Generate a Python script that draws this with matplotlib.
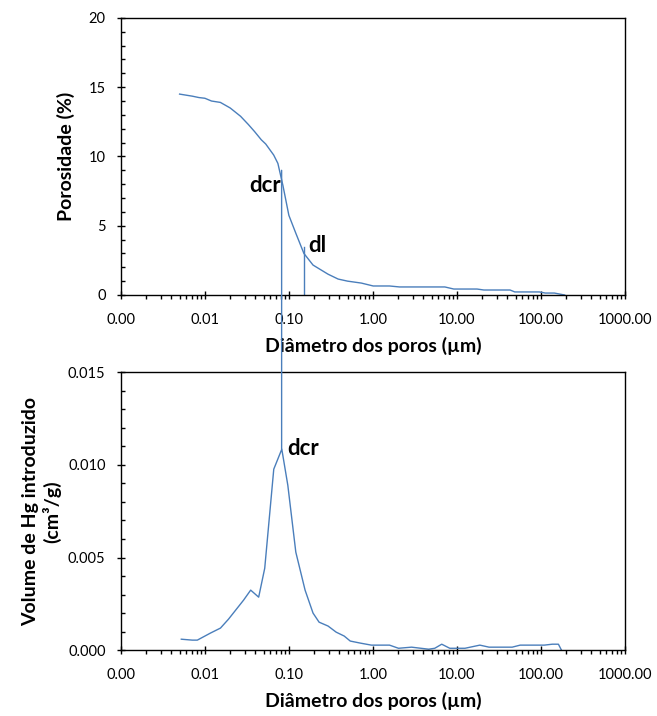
import matplotlib
matplotlib.use("Agg")
import matplotlib.pyplot as plt
from matplotlib.patches import ConnectionPatch
from matplotlib.ticker import FixedLocator, LogLocator, FuncFormatter, MultipleLocator, NullFormatter

plt.rcParams['font.family'] = ['Lato', 'DejaVu Sans']

# Porosity (cumulative) vs pore diameter
diam_por = [0.005, 0.0071, 0.0085, 0.01, 0.012, 0.0153, 0.02, 0.0266, 0.033, 0.039,
            0.047, 0.053, 0.066, 0.074, 0.085, 0.1, 0.121, 0.151, 0.194, 0.293,
            0.386, 0.5, 0.73, 1.01, 1.58, 2.08, 7.2, 9.2, 17.4, 21, 43, 49, 96,
            113, 145, 192]
porosity = [14.5, 14.35, 14.25, 14.2, 14.0, 13.9, 13.5, 12.9, 12.3, 11.8,
            11.2, 10.9, 10.1, 9.5, 7.9, 5.75, 4.46, 3.0, 2.16, 1.5,
            1.15, 1.0, 0.86, 0.65, 0.65, 0.58, 0.58, 0.43, 0.43, 0.36, 0.36, 0.22, 0.22,
            0.14, 0.14, 0.0]

# Differential Hg intrusion vs pore diameter
diam_hg = [0.00524, 0.00708, 0.00813, 0.01164, 0.01533, 0.0191, 0.0289, 0.0351, 0.0437,
           0.0516, 0.0661, 0.0824, 0.0972, 0.121, 0.156, 0.194, 0.229, 0.293, 0.366,
           0.456, 0.538, 0.708, 0.96, 1.58, 2.02, 2.89, 4.62, 5.46, 6.61, 8.24, 12.5,
           18.8, 24.2, 45.6, 56.8, 110, 137, 162, 176]
vol_hg = [0.00059, 0.00054, 0.00054, 0.00092, 0.00119, 0.00167, 0.0027, 0.00324, 0.00286,
          0.00442, 0.00977, 0.01085, 0.0089, 0.00529, 0.00324, 0.0020, 0.00151, 0.0013, 0.00097,
          0.00076, 0.00049, 0.00038, 0.00027, 0.00027, 0.0001, 0.00016, 0.00005, 0.0001,
          0.00032, 0.0001, 0.0001, 0.00027, 0.00016, 0.00016, 0.00027, 0.00027, 0.00032,
          0.00032, 0.0]

dcr = 0.082
dcr_por = 9.0
dl = 0.15
dl_por = 3.5

blue = '#4a7ebb'
label_size = 14
mark_size = 16

fig = plt.figure(figsize=(6.57, 7.16), dpi=100)
ax1 = fig.add_axes([0.184, 0.588, 0.767, 0.387])
ax2 = fig.add_axes([0.184, 0.092, 0.767, 0.388])


def style_axes(ax):
    ax.set_xscale('log')
    ax.set_xlim(0.001, 1000)
    ax.xaxis.set_major_locator(FixedLocator([0.001, 0.01, 0.1, 1, 10, 100, 1000]))
    ax.xaxis.set_minor_locator(LogLocator(base=10, subs=range(2, 10), numticks=20))
    ax.xaxis.set_major_formatter(FuncFormatter(lambda v, p: '%.2f' % v))
    ax.xaxis.set_minor_formatter(NullFormatter())
    ax.tick_params(axis='x', which='major', direction='inout', length=6, width=1, labelsize=10.5, pad=10)
    ax.tick_params(axis='x', which='minor', direction='out', length=3, width=1)
    ax.tick_params(axis='y', which='major', direction='inout', length=6, width=1, labelsize=10.5, pad=8)
    ax.tick_params(axis='y', which='minor', direction='in', length=3, width=1)
    for s in ax.spines.values():
        s.set_linewidth(1)
        s.set_color('black')
    ax.set_xlabel('Diâmetro dos poros (µm)', fontsize=label_size, fontweight='bold', labelpad=7)


# top panel
ax1.plot(diam_por, porosity, color=blue, lw=1)
ax1.plot([dl, dl], [0, dl_por], color=blue, lw=1)
style_axes(ax1)
ax1.set_ylim(0, 20)
ax1.yaxis.set_major_locator(MultipleLocator(5))
ax1.yaxis.set_minor_locator(MultipleLocator(1))
ax1.set_ylabel('Porosidade (%)', fontsize=label_size, fontweight='bold', labelpad=10)
ax1.text(dcr * 0.97, 7.9, 'dcr', fontsize=mark_size, fontweight='bold', ha='right', va='center')
ax1.text(dl * 1.12, 3.6, 'dl', fontsize=mark_size, fontweight='bold', ha='left', va='center')

# bottom panel
ax2.plot(diam_hg, vol_hg, color=blue, lw=1)
style_axes(ax2)
ax2.set_ylim(0, 0.015)
ax2.yaxis.set_major_locator(MultipleLocator(0.005))
ax2.yaxis.set_minor_locator(MultipleLocator(0.001))
ax2.yaxis.set_major_formatter(FuncFormatter(lambda v, p: '%.3f' % v))
ax2.set_ylabel('Volume de Hg introduzido\n(cm³/g)', fontsize=label_size, fontweight='bold', labelpad=5)
ax2.text(dcr * 1.18, 0.0109, 'dcr', fontsize=mark_size, fontweight='bold', ha='left', va='center')

# dcr line running from the top panel down to the peak in the bottom one
con = ConnectionPatch(xyA=(dcr, dcr_por), coordsA=ax1.transData,
                      xyB=(dcr, max(vol_hg)), coordsB=ax2.transData,
                      color=blue, lw=1)
fig.add_artist(con)

fig.savefig('out.png', dpi=100)
